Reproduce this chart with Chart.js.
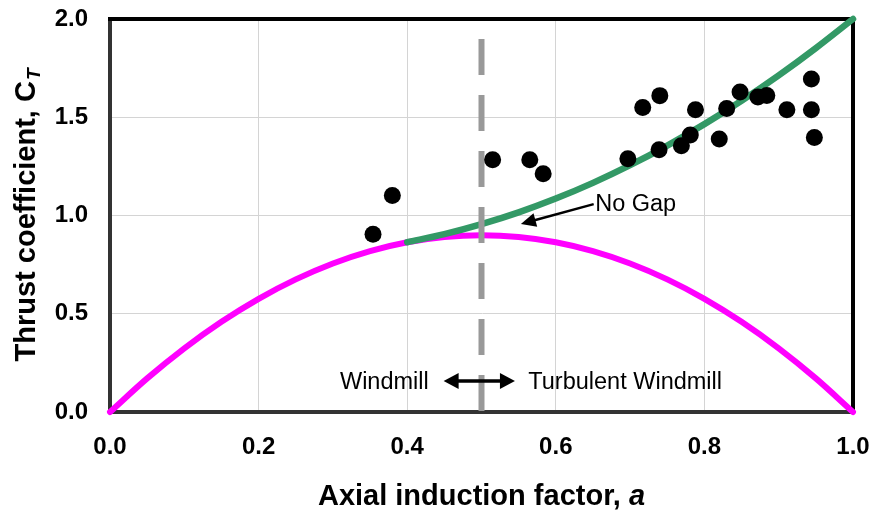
<!DOCTYPE html>
<html>
<head>
<meta charset="utf-8">
<title>Thrust coefficient vs axial induction factor</title>
<script src="https://cdn.jsdelivr.net/npm/chart.js@4/dist/chart.umd.min.js"></script>
<style>
	html, body { margin: 0; padding: 0; background: #fff; }
	#chart { display: block; }
</style>
</head>
<body>
<canvas id="chart" width="873" height="516"></canvas>
<script>
'use strict';

// Momentum theory curve (magenta)
var momentumA = [ 0, 0.05, 0.1, 0.15, 0.2, 0.25, 0.3, 0.35, 0.4, 0.45, 0.5, 0.55, 0.6, 0.65, 0.7, 0.75, 0.8, 0.85, 0.9, 0.95, 1.0 ];
var momentumCT = [ 0, 0.171, 0.324, 0.459, 0.576, 0.675, 0.756, 0.819, 0.864, 0.891, 0.9, 0.891, 0.864, 0.819, 0.756, 0.675, 0.576, 0.459, 0.324, 0.171, 0 ];

// Empirical "no gap" correction (green)
var noGapA = [ 0.4, 0.45, 0.5, 0.55, 0.6, 0.65, 0.7, 0.75, 0.8, 0.85, 0.9, 0.95, 1.0 ];
var noGapCT = [ 0.864, 0.905, 0.956, 1.016, 1.086, 1.166, 1.256, 1.356, 1.465, 1.584, 1.713, 1.852, 2.0 ];

// Measured points
var measuredA = [ 0.354, 0.380, 0.515, 0.565, 0.583, 0.697, 0.717, 0.740, 0.739, 0.769, 0.781, 0.788, 0.820, 0.830, 0.848, 0.872, 0.884, 0.911, 0.944, 0.944, 0.948 ];
var measuredCT = [ 0.905, 1.102, 1.284, 1.284, 1.212, 1.289, 1.550, 1.610, 1.335, 1.355, 1.410, 1.538, 1.389, 1.544, 1.629, 1.603, 1.611, 1.538, 1.695, 1.538, 1.397 ];

// Windmill / turbulent windmill boundary (drawn top-down)
var boundaryA = [ 0.5, 0.5 ];
var boundaryCT = [ 2.0, 0 ];

var xTickLabels = [ '0.0', '0.2', '0.4', '0.6', '0.8', '1.0' ];
var yTickLabels = [ '0.0', '0.5', '1.0', '1.5', '2.0' ];

var FONT = '"Liberation Sans", Arial, Helvetica, sans-serif';

function toPoints( xs, ys ) {
	var out = [];
	for ( var i = 0; i < xs.length; i++ ) {
		out.push( { x: xs[ i ], y: ys[ i ] } );
	}
	return out;
}

function arrowHead( ctx, fromX, fromY, toX, toY, len, half ) {
	var ang = Math.atan2( toY - fromY, toX - fromX );
	ctx.beginPath();
	ctx.moveTo( toX, toY );
	ctx.lineTo( toX - len * Math.cos( ang ) + half * Math.sin( ang ), toY - len * Math.sin( ang ) - half * Math.cos( ang ) );
	ctx.lineTo( toX - len * Math.cos( ang ) - half * Math.sin( ang ), toY - len * Math.sin( ang ) + half * Math.cos( ang ) );
	ctx.closePath();
	ctx.fill();
}

// Frame, axis titles and text annotations
var decorations = {
	id: 'decorations',
	beforeDatasetsDraw: function( chart ) {
		var ctx = chart.ctx;
		var area = chart.chartArea;
		ctx.save();
		ctx.strokeStyle = '#000';
		ctx.lineWidth = 4;
		ctx.beginPath();
		ctx.moveTo( area.left - 2, area.top );
		ctx.lineTo( area.right, area.top );
		ctx.lineTo( area.right, area.bottom );
		ctx.stroke();
		ctx.restore();
	},
	afterDraw: function( chart ) {
		var ctx = chart.ctx;
		var area = chart.chartArea;
		var xs = chart.scales.x;
		var ys = chart.scales.y;
		ctx.save();
		ctx.fillStyle = '#000';
		ctx.strokeStyle = '#000';

		// x title with italic symbol
		ctx.textBaseline = 'alphabetic';
		var main = 'Axial induction factor, ';
		ctx.font = 'italic bold 29px ' + FONT;
		var symW = ctx.measureText( 'a' ).width;
		ctx.font = 'bold 29px ' + FONT;
		var mainW = ctx.measureText( main ).width;
		var cx = ( area.left + area.right ) / 2;
		var sx = cx - ( mainW + symW ) / 2;
		ctx.textAlign = 'left';
		ctx.fillText( main, sx, 505 );
		ctx.font = 'italic bold 29px ' + FONT;
		ctx.fillText( 'a', sx + mainW, 505 );

		// y title with subscript
		ctx.save();
		ctx.translate( 35, ( area.top + area.bottom ) / 2 );
		ctx.rotate( -Math.PI / 2 );
		ctx.font = 'bold 29px ' + FONT;
		var yMain = 'Thrust coefficient, C';
		var yMainW = ctx.measureText( yMain ).width;
		ctx.font = 'italic bold 19px ' + FONT;
		var subW = ctx.measureText( 'T' ).width;
		var ty = -( yMainW + subW ) / 2;
		ctx.font = 'bold 29px ' + FONT;
		ctx.fillText( yMain, ty, 0 );
		ctx.font = 'italic bold 19px ' + FONT;
		ctx.fillText( 'T', ty + yMainW + 1, 5 );
		ctx.restore();

		// regime labels and double arrow
		ctx.textBaseline = 'middle';
		ctx.font = '23.5px ' + FONT;
		var labelY = ys.getPixelForValue( 0.150 );
		ctx.textAlign = 'right';
		ctx.fillText( 'Windmill', xs.getPixelForValue( 0.429 ), labelY );
		ctx.textAlign = 'left';
		ctx.fillText( 'Turbulent Windmill', xs.getPixelForValue( 0.563 ), labelY );

		var arrY = ys.getPixelForValue( 0.158 );
		var ax1 = xs.getPixelForValue( 0.449 );
		var ax2 = xs.getPixelForValue( 0.545 );
		ctx.lineWidth = 3.5;
		ctx.beginPath();
		ctx.moveTo( ax1 + 10, arrY );
		ctx.lineTo( ax2 - 10, arrY );
		ctx.stroke();
		arrowHead( ctx, ax2, arrY, ax1, arrY, 15, 8 );
		arrowHead( ctx, ax1, arrY, ax2, arrY, 15, 8 );

		// "No Gap" callout
		var nx = xs.getPixelForValue( 0.653 );
		var ny = ys.getPixelForValue( 1.058 );
		ctx.textAlign = 'left';
		ctx.fillText( 'No Gap', nx, ny );
		var fx = xs.getPixelForValue( 0.651 );
		var tx = xs.getPixelForValue( 0.553 );
		var tyy = ys.getPixelForValue( 0.957 );
		ctx.lineWidth = 2.5;
		ctx.beginPath();
		ctx.moveTo( fx, ny );
		ctx.lineTo( tx + ( fx - tx ) * 0.15, tyy + ( ny - tyy ) * 0.15 );
		ctx.stroke();
		arrowHead( ctx, fx, ny, tx, tyy, 15, 7 );

		ctx.restore();
	}
};

var chart = new Chart( document.getElementById( 'chart' ), {
	type: 'scatter',
	data: {
		datasets: [
			{
				label: 'Measured',
				data: toPoints( measuredA, measuredCT ),
				backgroundColor: '#000',
				borderWidth: 0,
				pointRadius: 8.5,
				pointHoverRadius: 8.5,
				order: 0,
				clip: false
			},
			{
				label: 'Boundary',
				data: toPoints( boundaryA, boundaryCT ),
				showLine: true,
				borderColor: '#999999',
				borderWidth: 6,
				borderDash: [ 36, 20 ],
				borderDashOffset: 36,
				borderCapStyle: 'butt',
				pointRadius: 0,
				order: 1,
				clip: false
			},
			{
				label: 'No Gap',
				data: toPoints( noGapA, noGapCT ),
				showLine: true,
				borderColor: '#339966',
				borderWidth: 6.5,
				cubicInterpolationMode: 'monotone',
				borderCapStyle: 'round',
				pointRadius: 0,
				order: 2,
				clip: false
			},
			{
				label: 'Momentum theory',
				data: toPoints( momentumA, momentumCT ),
				showLine: true,
				borderColor: '#ff00ff',
				borderWidth: 6,
				cubicInterpolationMode: 'monotone',
				borderCapStyle: 'round',
				pointRadius: 0,
				order: 3,
				clip: false
			}
		]
	},
	options: {
		responsive: false,
		animation: false,
		devicePixelRatio: 1,
		layout: {
			padding: { top: 19, right: 20, left: 0, bottom: 0 }
		},
		plugins: {
			legend: { display: false },
			tooltip: { enabled: false }
		},
		scales: {
			x: {
				type: 'linear',
				min: 0,
				max: 1,
				afterFit: function( scale ) {
					scale.height = 104;
					scale.paddingLeft = 0;
					scale.paddingRight = 0;
				},
				ticks: {
					stepSize: 0.2,
					padding: 21,
					color: '#000',
					font: { family: FONT, size: 24, weight: 'bold' },
					callback: function( value, index ) {
						return xTickLabels[ index ];
					}
				},
				grid: { color: '#d4d4d4', lineWidth: 1, drawTicks: false },
				border: { color: '#333', width: 4 }
			},
			y: {
				type: 'linear',
				min: 0,
				max: 2,
				afterFit: function( scale ) {
					scale.width = 110;
					scale.paddingTop = 0;
					scale.paddingBottom = 0;
				},
				ticks: {
					stepSize: 0.5,
					padding: 22,
					color: '#000',
					font: { family: FONT, size: 24, weight: 'bold' },
					callback: function( value, index ) {
						return yTickLabels[ index ];
					}
				},
				grid: { color: '#d4d4d4', lineWidth: 1, drawTicks: false },
				border: { color: '#333', width: 4 }
			}
		}
	},
	plugins: [ decorations ]
} );
</script>
</body>
</html>
